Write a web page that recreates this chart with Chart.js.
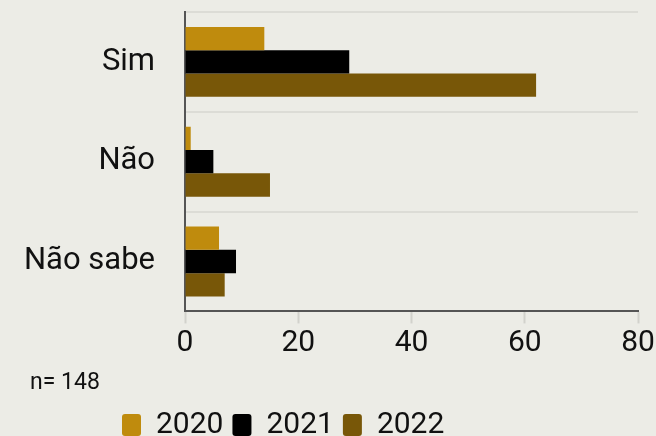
<!DOCTYPE html>
<html>
<head>
<meta charset="utf-8">
<script src="https://cdn.jsdelivr.net/npm/chart.js@4"></script>
<style>
  html, body { margin: 0; padding: 0; background: #ecece6; }
  #wrap { width: 656px; height: 436px; }
</style>
</head>
<body>
<div id="wrap"><canvas id="chart"></canvas></div>
<script>
const categories = ['Sim', 'Não', 'Não sabe'];
const years = ['2020', '2021', '2022'];
const values2020 = [14, 1, 6];
const values2021 = [29, 5, 9];
const values2022 = [62, 15, 7];
const xTicks = [0, 20, 40, 60, 80];
const note = 'n= 148';

const colors = ['#bf8b0d', '#000000', '#785708'];

// legend and note sit a little off the default spots in the original
const nudgeBoxes = {
    id: 'nudgeBoxes',
    afterLayout(chart) {
        chart.legend.left = 113;
        chart.boxes.forEach(function(b) {
            if (b.options && b.options.text === note) {
                b.left += 8;
            }
        });
    }
};

let ctx = document.getElementById('chart').getContext('2d');
new Chart(ctx, {
    type: 'bar',
    data: {
        labels: categories,
        datasets: [values2020, values2021, values2022].map(function(v, i) {
            return {
                label: years[i],
                data: v,
                backgroundColor: colors[i],
                borderWidth: 0,
                categoryPercentage: 0.7,
                barPercentage: 1
            };
        })
    },
    options: {
        indexAxis: 'y',
        responsive: true,
        maintainAspectRatio: false,
        animation: false,
        layout: { padding: { left: 22, right: 18, top: 12, bottom: -14 } },
        scales: {
            x: {
                min: xTicks[0],
                max: xTicks[xTicks.length - 1],
                afterBuildTicks: function(axis) {
                    axis.ticks = xTicks.map(v => ({ value: v }));
                },
                afterFit: function(axis) {
                    axis.height -= 6;
                    axis.paddingRight = 18;
                },
                grid: { drawOnChartArea: false, drawTicks: true, tickLength: 12, tickColor: '#d2d2cc', tickWidth: 2 },
                border: { color: '#555', width: 2 },
                ticks: { color: '#111', padding: 8, font: { family: 'Roboto', size: 30, lineHeight: 0.8 } }
            },
            y: {
                grid: { color: '#dcdcd6', lineWidth: 2, drawTicks: true, tickLength: 28, tickColor: 'rgba(0,0,0,0)', offset: true },
                border: { color: '#555', width: 2 },
                ticks: { color: '#111', padding: 2, font: { family: 'Roboto', size: 31, lineHeight: 0.5 } }
            }
        },
        plugins: {
            tooltip: { enabled: false },
            subtitle: {
                display: true,
                text: note,
                position: 'bottom',
                align: 'start',
                weight: 500,
                color: '#111',
                font: { family: 'Roboto', size: 23, weight: 'normal' },
                padding: { top: 12, bottom: 4 }
            },
            legend: {
                position: 'bottom',
                align: 'start',
                labels: {
                    boxWidth: 19,
                    boxHeight: 22,
                    useBorderRadius: true,
                    borderRadius: 3,
                    padding: 9,
                    color: '#111',
                    font: { family: 'Roboto', size: 30 }
                }
            }
        }
    },
    plugins: [nudgeBoxes]
});
</script>
</body>
</html>
